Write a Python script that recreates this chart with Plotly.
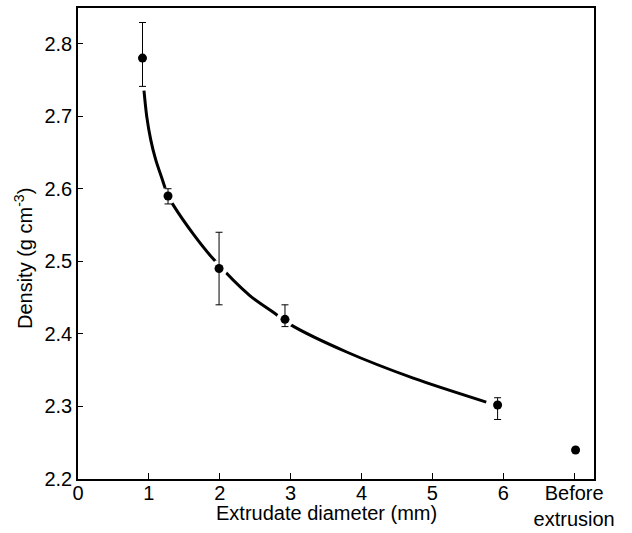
import plotly.graph_objects as go

# measured points
x_pts = [0.91, 1.27, 1.99, 2.92, 5.92, 7.02]
y_pts = [2.78, 2.59, 2.49, 2.42, 2.302, 2.24]
err_plus = [0.049, 0.010, 0.050, 0.020, 0.010, 0.0]
err_minus = [0.039, 0.011, 0.050, 0.010, 0.020, 0.0]

# fitted curve
curve_x = [0.931, 0.969, 1.025, 1.096, 1.181, 1.27, 1.34, 1.63, 1.91, 2.42, 2.75, 3.01, 3.79, 4.73, 5.76]
curve_y = [2.735, 2.700, 2.668, 2.640, 2.615, 2.59, 2.578, 2.537, 2.503, 2.453, 2.43, 2.412, 2.375, 2.339, 2.306]

tick_vals = [0, 1, 2, 3, 4, 5, 6, 7]
tick_text = ["0", "1", "2", "3", "4", "5", "6", "Before<br>extrusion"]

FONT = "Liberation Sans, Arial, sans-serif"

fig = go.Figure()
fig.add_trace(go.Scatter(x=curve_x, y=curve_y, mode="lines",
                         line=dict(color="black", width=3, shape="spline", smoothing=0.8),
                         hoverinfo="skip"))
# white halos (gaps around markers)
fig.add_trace(go.Scatter(x=x_pts[:5], y=y_pts[:5], mode="markers",
                         marker=dict(color="white", size=17, line=dict(width=0)),
                         hoverinfo="skip"))
fig.add_trace(go.Scatter(x=x_pts, y=y_pts, mode="markers",
                         marker=dict(color="black", size=9, line=dict(width=0)),
                         error_y=dict(type="data", array=err_plus, arrayminus=err_minus,
                                      symmetric=False, color="black", thickness=1, width=3.5)))

fig.update_layout(
    width=632, height=533,
    margin=dict(l=78, r=38, t=8, b=54, autoexpand=False),
    paper_bgcolor="white", plot_bgcolor="white",
    showlegend=False,
    font=dict(family=FONT, size=20, color="black"),
)
fig.update_xaxes(range=[0, 7.28], tickvals=tick_vals, ticktext=tick_text,
                 ticks="inside", ticklen=6, tickwidth=1, tickcolor="black",
                 showline=True, linewidth=2, linecolor="black", mirror=True,
                 showgrid=False, zeroline=False, tickfont=dict(size=20),
                 ticklabelstandoff=-5, automargin=False)
fig.update_yaxes(range=[2.2, 2.849], tickvals=[2.2, 2.3, 2.4, 2.5, 2.6, 2.7, 2.8],
                 ticktext=["2.2", "2.3", "2.4", "2.5", "2.6", "2.7", "2.8"],
                 ticks="inside", ticklen=5, tickwidth=1, tickcolor="black",
                 showline=True, linewidth=1.5, linecolor="black", mirror=True,
                 showgrid=False, zeroline=False, tickfont=dict(size=20),
                 automargin=False)

fig.add_annotation(text="Extrudate diameter (mm)", xref="paper", yref="paper",
                   x=0.481, y=0, xanchor="center", yanchor="middle", yshift=-34,
                   showarrow=False, font=dict(size=20))
fig.add_annotation(text="Density (g cm<sup>-3</sup>)", xref="paper", yref="paper",
                   x=0, y=0.467, xanchor="center", yanchor="middle", xshift=-55,
                   textangle=-90, showarrow=False, font=dict(size=20))

fig.write_html("out.html", config={"displayModeBar": False},
               post_script="document.body.style.margin='0';document.body.style.padding='0';")
